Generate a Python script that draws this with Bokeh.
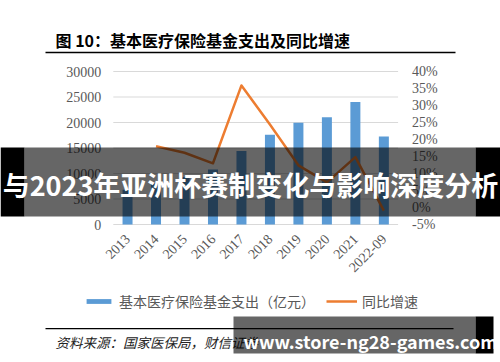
from bokeh.plotting import figure
from bokeh.models import (Range1d, LinearAxis, FixedTicker, PrintfTickFormatter,
                          Label, BoxAnnotation, Legend, LegendItem)
from bokeh.embed import file_html
from bokeh.resources import INLINE
import math

# ---- data ----
years = ["2013", "2014", "2015", "2016", "2017", "2018", "2019", "2020", "2021", "2022-09"]
expenditure = [6801, 8134, 9312, 10767, 14422, 17608, 19946, 21032, 24043, 17255]
growth_years = ["2014", "2015", "2016", "2017", "2018", "2019", "2020", "2021", "2022-09"]
growth = [18.0, 16.1, 13.0, 35.9, 24.4, 12.4, 7.4, 14.8, -0.9]
left_ticks = [0, 5000, 10000, 15000, 20000, 25000, 30000]
right_ticks = [-5, 0, 5, 10, 15, 20, 25, 30, 35, 40]

title_text = "图 10：基本医疗保险基金支出及同比增速"
bar_label = "基本医疗保险基金支出（亿元）"
line_label = "同比增速"
source_text = "资料来源：国家医保局，财信证券"
banner_text = "与2023年亚洲杯赛制变化与影响深度分析"
watermark_text = "www.store-ng28-games.com"

# ---- layout (pixels) ----
W, H = 500, 362
PL, PR, PT, PB = 112.8, 397.6, 71.0, 224.0   # plot area in canvas px
L_MIN, L_MAX = 0, 30000
R_MIN, R_MAX = -5, 40

n = len(years)
cat_w = (PR - PL) / n
x_start = -0.5 - PL / cat_w
x_end = -0.5 + (W - PL) / cat_w
lpp = (L_MAX - L_MIN) / (PB - PT)
rpp = (R_MAX - R_MIN) / (PB - PT)
y_start = L_MIN - (H - PB) * lpp
y_end = L_MAX + PT * lpp
r_start = R_MIN - (H - PB) * rpp
r_end = R_MAX + PT * rpp

def sy(Y):
    return H - Y

GRAY = "#595959"
SERIF = "Liberation Serif"
CJK = "Noto Sans CJK SC"

xi = list(range(n))
idx = {y: i for i, y in enumerate(years)}
gx = [idx[y] for y in growth_years]

p = figure(width=W, height=H, x_range=Range1d(x_start, x_end), y_range=Range1d(y_start, y_end),
           output_backend="svg", toolbar_location=None, x_axis_location=None, y_axis_location=None,
           min_border=0, min_border_left=0, min_border_right=0, min_border_top=0, min_border_bottom=0)
p.outline_line_color = None
p.background_fill_color = "white"
p.border_fill_color = "white"
p.xgrid.visible = False
p.ygrid.visible = False
p.extra_y_ranges = {"pct": Range1d(r_start, r_end)}

# gridlines (plot area only)
p.segment(x0=[-0.5] * len(left_ticks), x1=[n - 0.5] * len(left_ticks),
          y0=left_ticks, y1=left_ticks, line_color="#d9d9d9", line_width=1)

bars = p.vbar(x=xi, top=expenditure, width=0.351, color="#5b9bd5", line_color=None)
line = p.line(x=gx, y=growth, y_range_name="pct", line_color="#ed7d31",
              line_width=2.5, line_join="round")

def style(a, standoff):
    a.axis_line_color = None
    a.major_tick_line_color = None
    a.minor_tick_line_color = None
    a.major_tick_out = 0
    a.major_tick_in = 0
    a.minor_tick_out = 0
    a.major_label_standoff = standoff
    a.major_label_text_font = SERIF
    a.major_label_text_font_size = "14px"
    a.major_label_text_color = GRAY

lax = LinearAxis(ticker=FixedTicker(ticks=left_ticks), formatter=PrintfTickFormatter(format="%d"),
                 fixed_location=-0.5)
style(lax, 12)
p.add_layout(lax, "left")

rax = LinearAxis(y_range_name="pct", ticker=FixedTicker(ticks=right_ticks),
                 formatter=PrintfTickFormatter(format="%d%%"), fixed_location=n - 0.5)
style(rax, 14)
p.add_layout(rax, "right")

xax = LinearAxis(ticker=FixedTicker(ticks=xi), fixed_location=0,
                 major_label_overrides={i: y for i, y in enumerate(years)})
style(xax, 12)
xax.major_label_orientation = math.pi / 4
p.add_layout(xax, "below")

# legend
legend = Legend(items=[LegendItem(label=bar_label, renderers=[bars]),
                       LegendItem(label=line_label, renderers=[line])],
                location=(83, sy(311)), orientation="horizontal",
                padding=0, margin=0, spacing=11, glyph_width=31, glyph_height=6,
                label_height=16, label_standoff=5, border_line_color=None,
                background_fill_alpha=0, label_text_font=CJK,
                label_text_font_size="14px", label_text_color=GRAY)
p.add_layout(legend, "center")

def box(X1, X2, Y1, Y2, color, alpha):
    p.add_layout(BoxAnnotation(left=X1, right=X2, top=sy(Y1), bottom=sy(Y2),
                               left_units="screen", right_units="screen", top_units="screen",
                               bottom_units="screen", fill_color=color, fill_alpha=alpha,
                               line_color=None, level="overlay"))

def label(X, Y, text, size, color, style="normal", align="left"):
    p.add_layout(Label(x=X, y=sy(Y), x_units="screen", y_units="screen", text=text,
                       text_font=CJK, text_font_style=style, text_font_size=size,
                       text_color=color, text_baseline="middle", text_align=align,
                       level="overlay"))

# title and rules
label(55, 39, title_text, "16px", "black", "bold")
box(45, 455, 51.2, 52.8, "black", 1.0)
box(45, 453, 327.6, 328.8, "black", 1.0)
label(55, 341, source_text, "13.5px", "#222222", "italic")

# overlay banner
box(24, 475, 147, 216, "black", 0.6)
box(0, 24, 147, 216, "black", 1.0)
box(475, 500, 147, 216, "black", 1.0)
label(250, 184, banner_text, "27px", "white", "bold", "center")

# watermark
box(233, 475, 316, 353, "black", 0.6)
box(475, 493, 316, 353, "black", 1.0)
label(243, 340, watermark_text, "18px", "white", "bold")

open("out.html", "w").write(file_html(p, INLINE))
